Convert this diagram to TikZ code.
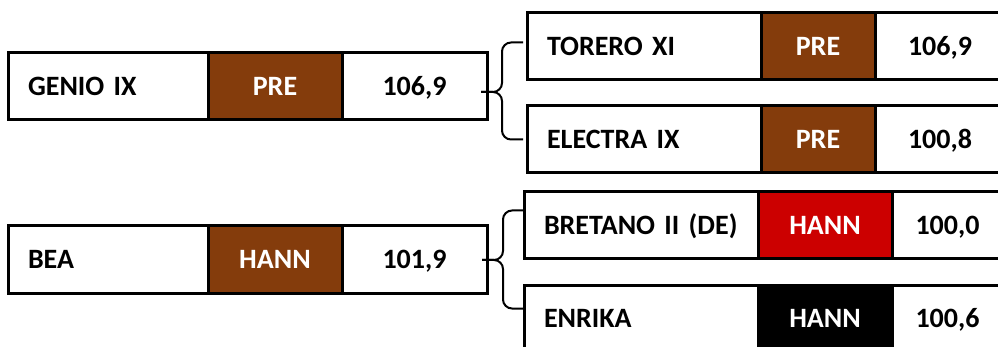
\documentclass[tikz,border=0pt]{standalone}
\usepackage{fontspec}
\setmainfont{Carlito}
\usetikzlibrary{positioning}
\definecolor{prebrown}{HTML}{843C0C}
\definecolor{hannred}{HTML}{CC0000}

\begin{document}
\begin{tikzpicture}[x=1pt, y=-1pt,
    cell/.style={draw, line width=3pt, minimum height=67pt, inner sep=0pt,
        outer sep=0pt, text height=18pt, text depth=0pt,
        font=\fontsize{28}{30}\selectfont\bfseries},
    namecell/.style={cell, anchor=north west, inner xsep=20pt, text width=#1, align=left},
    colcell/.style={cell, fill=#1, text=white},
    valcell/.style={cell},
    brace/.style={line width=2pt, rounded corners=9pt}]
    \useasboundingbox (0,0) rectangle (998,347);
    \clip (0,0) rectangle (998,347);

    % Upper parent
    \node[namecell=160pt] (genio) at (8,53) {GENIO IX};
    \node[colcell=prebrown, minimum width=134pt, right=0pt of genio] (geniocol) {PRE};
    \node[valcell, minimum width=145pt, right=0pt of geniocol] (genioval) {106,9};

    % Upper children
    \node[namecell=194pt] (torero) at (527,13) {TORERO XI};
    \node[colcell=prebrown, minimum width=114pt, right=0pt of torero] (torerocol) {PRE};
    \node[valcell, minimum width=130pt, right=0pt of torerocol] (toreroval) {106,9};

    \node[namecell=194pt] (electra) at (527,106) {ELECTRA IX};
    \node[colcell=prebrown, minimum width=114pt, right=0pt of electra] (electracol) {PRE};
    \node[valcell, minimum width=130pt, right=0pt of electracol] (electraval) {100,8};

    % Lower parent
    \node[namecell=160pt] (bea) at (8,226) {BEA};
    \node[colcell=prebrown, minimum width=134pt, right=0pt of bea] (beacol) {HANN};
    \node[valcell, minimum width=145pt, right=0pt of beacol] (beaval) {101,9};

    % Lower children
    \node[namecell=194pt] (bretano) at (524,192) {\mbox{BRETANO II (DE)}};
    \node[colcell=hannred, minimum width=134pt, right=0pt of bretano] (bretanocol) {HANN};
    \node[valcell, minimum width=111pt, right=0pt of bretanocol] (bretanoval) {100,0};

    \node[namecell=194pt] (enrika) at (524,285) {ENRIKA};
    \node[colcell=black, minimum width=134pt, right=0pt of enrika] (enrikacol) {HANN};
    \node[valcell, minimum width=111pt, right=0pt of enrikacol] (enrikaval) {100,6};

    % Braces
    \coordinate (uptip) at (481,92);
    \coordinate (upbend) at (502,92);
    \draw[brace] ([xshift=-4pt, yshift=4pt]torero.west) -| (upbend) -- (uptip);
    \draw[brace] ([xshift=-4pt]electra.west) -| (upbend) -- (uptip);

    \coordinate (lowtip) at (482,260);
    \coordinate (lowbend) at (503,260);
    \draw[brace] ([xshift=-1pt, yshift=15pt]bretano.west) -| (lowbend) -- (lowtip);
    \draw[brace] ([xshift=-1pt, yshift=10pt]enrika.west) -| (lowbend) -- (lowtip);
\end{tikzpicture}
\end{document}
